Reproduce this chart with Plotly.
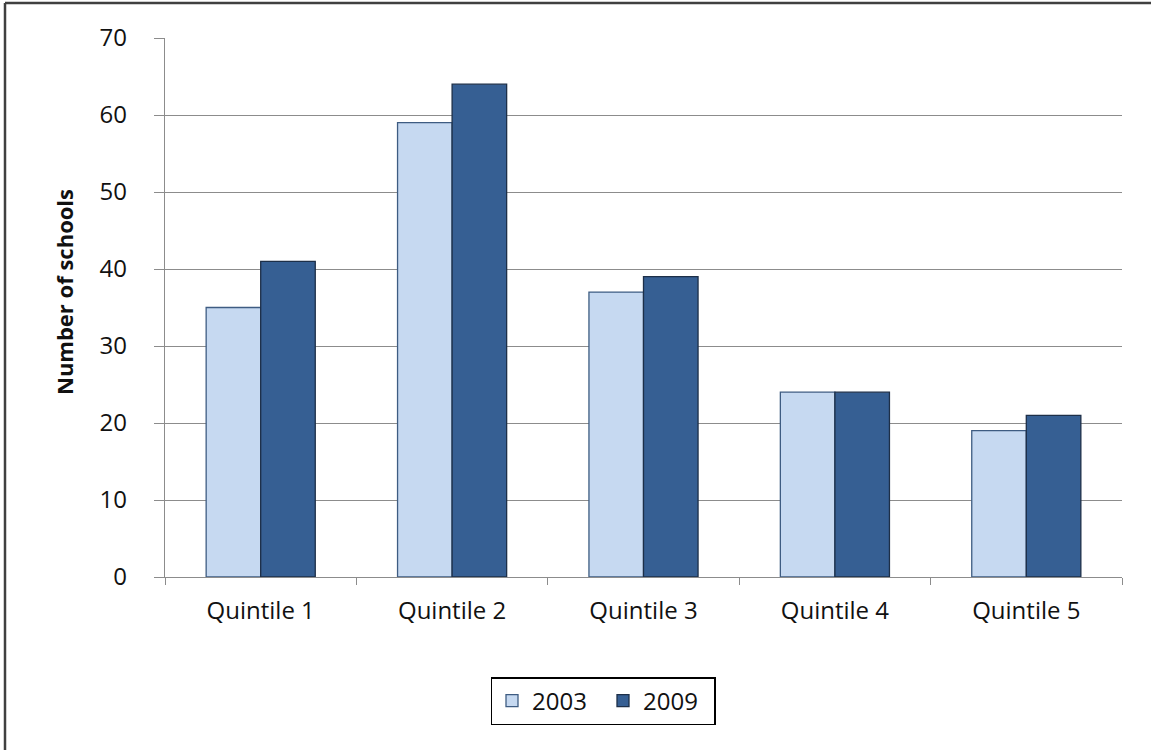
import plotly.graph_objects as go

categories = ["Quintile 1", "Quintile 2", "Quintile 3", "Quintile 4", "Quintile 5"]
values_2003 = [35, 59, 37, 24, 19]
values_2009 = [41, 64, 39, 24, 21]
series_names = ["2003", "2009"]

W, H = 1151, 750
L, R, T, B = 165, 29, 38, 173
pw, ph = W - L - R, H - T - B


def py(ypx):
    return (H - B - ypx) / ph


def px(xpx):
    return (xpx - L) / pw


FONT = "Open Sans"
TXT = "#111111"
fig = go.Figure()
fig.add_trace(go.Bar(x=categories, y=values_2003, name=series_names[0],
                     marker=dict(color="#C6D9F1", line=dict(color="#3E5C82", width=1.3))))
fig.add_trace(go.Bar(x=categories, y=values_2009, name=series_names[1],
                     marker=dict(color="#365F93", line=dict(color="#1D2F48", width=1.3))))

grid = "#8C8C8C"
fig.update_layout(
    width=W, height=H,
    margin=dict(l=L, r=R, t=T, b=B, autoexpand=False),
    paper_bgcolor="white", plot_bgcolor="white",
    barmode="group", bargap=0.43, bargroupgap=0,
    font=dict(family=FONT, size=24, color=TXT),
    legend=dict(orientation="h", x=px(603), xanchor="center",
                y=py(677), yanchor="top",
                bordercolor="black", borderwidth=1.5, bgcolor="white",
                font=dict(family=FONT, size=24, color=TXT),
                itemwidth=30, entrywidth=66, traceorder="normal"),
    xaxis=dict(showline=True, linecolor=grid, linewidth=1.3,
               ticks="outside", tickson="boundaries", ticklen=7, tickcolor=grid,
               tickwidth=1.3, tickfont=dict(size=24, color=TXT), ticklabelstandoff=12),
    yaxis=dict(range=[0, 70], dtick=10, showgrid=True, gridcolor=grid, gridwidth=1.3,
               showline=True, linecolor=grid, linewidth=1.3, zeroline=False,
               ticks="outside", ticklen=10, tickcolor=grid, tickwidth=1.3,
               tickfont=dict(size=24, color=TXT), ticklabelstandoff=22),
    annotations=[
        dict(text="<b>Number of schools</b>", xref="paper", yref="paper",
             x=px(64), y=py(292), xanchor="center", yanchor="middle",
             textangle=-90, showarrow=False, font=dict(size=22, color=TXT)),
    ],
    shapes=[
        dict(type="line", xref="paper", yref="paper",
             x0=px(5), x1=px(W + 5), y0=py(3), y1=py(3),
             line=dict(color="#404040", width=2.5)),
        dict(type="line", xref="paper", yref="paper",
             x0=px(5), x1=px(5), y0=py(H + 5), y1=py(3),
             line=dict(color="#404040", width=2.5)),
    ],
)
fig.write_html("out.html")
